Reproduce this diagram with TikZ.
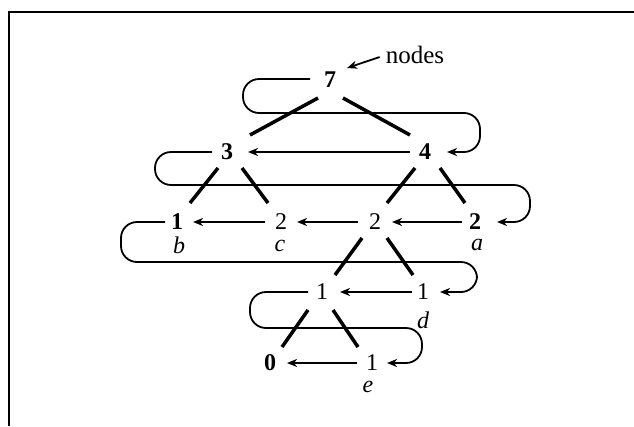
\documentclass[tikz,border=0pt]{standalone}
\usepackage{fontspec}
\setmainfont{Liberation Serif}
\usetikzlibrary{calc,arrows.meta}
\begin{document}
\begin{tikzpicture}[x=1pt,y=-1pt,
  bnum/.style={inner sep=0pt,font=\fontsize{24}{28}\selectfont\bfseries},
  rnum/.style={inner sep=0pt,font=\fontsize{24}{28}\selectfont},
  lab/.style={inner sep=0pt,font=\fontsize{24}{28}\selectfont\itshape},
  txt/.style={inner sep=0pt,font=\fontsize{25}{28}\selectfont},
  tedge/.style={line width=3.5pt},
  arr/.style={line width=1.8pt,-{Stealth[length=10pt,width=8pt,inset=3pt]}},
  loopline/.style={line width=1.8pt,rounded corners=16pt,-{Stealth[length=10pt,width=8pt,inset=3pt]}},
  frame/.style={line width=2pt}]
\useasboundingbox (0,0) rectangle (634,426);
\draw[frame] (9,426) -- (9,12) -- (634,12);
% nodes
\node[bnum] (n7) at (330,80) {7};
\node[txt] (lbl) at (415,55) {nodes};
\node[bnum] (n3) at (227,152) {3};
\node[bnum] (n4) at (425,152) {4};
\node[bnum] (nb) at (177,222) {1};
\node[rnum] (nc) at (281,222) {2};
\node[rnum] (nm) at (375,222) {2};
\node[bnum] (na) at (475,222) {2};
\node[rnum] (nl) at (322,292) {1};
\node[rnum] (nd) at (423,292) {1};
\node[bnum] (n0) at (270,363) {0};
\node[rnum] (ne) at (372,363) {1};
\node[lab] (lb) at (179,245) {b};
\node[lab] (lc) at (280,246) {c};
\node[lab] (la) at (477,245) {a};
\node[lab] (ld) at (423,320) {d};
\node[lab] (le) at (368,387) {e};
% tree edges
\draw[tedge] ($(n7)+(-12,18)$) -- ($(n3)+(23,-17)$);
\draw[tedge] ($(n7)+(13,18)$) -- ($(n4)+(-15,-17)$);
\draw[tedge] ($(n3)+(-9,16)$) -- ($(nb)+(13,-19)$);
\draw[tedge] ($(n3)+(15,16)$) -- ($(nc)+(-13,-19)$);
\draw[tedge] ($(n4)+(-10,16)$) -- ($(nm)+(12,-19)$);
\draw[tedge] ($(n4)+(15,16)$) -- ($(na)+(-10,-19)$);
\draw[tedge] ($(nm)+(-13,16)$) -- ($(nl)+(13,-17)$);
\draw[tedge] ($(nm)+(12,16)$) -- ($(nd)+(-10,-17)$);
\draw[tedge] ($(nl)+(-14,18)$) -- ($(n0)+(12,-16)$);
\draw[tedge] ($(nl)+(11,18)$) -- ($(ne)+(-14,-16)$);
% horizontal arrows
\draw[arr] ($(n4)+(-15,0)$) -- ($(n3)+(21,0)$);
\draw[arr] ($(nc)+(-16,0)$) -- ($(nb)+(16,0)$);
\draw[arr] ($(nm)+(-17,0)$) -- ($(nc)+(16,0)$);
\draw[arr] ($(na)+(-13,0)$) -- ($(nm)+(17,0)$);
\draw[arr] ($(nd)+(-11,0)$) -- ($(nl)+(18,0)$);
\draw[arr] ($(ne)+(-15,0)$) -- ($(n0)+(17,0)$);
% label arrow
\draw[arr] ($(lbl.west)+(-6,2)$) -- ($(n7)+(17,-12)$);
% loops
\draw[loopline] ($(n7)+(-20,-1)$) -| ($(n7)+(-87,33)$) -| ($(n4)+(55,0)$) -- ($(n4)+(22,0)$);
\draw[loopline] ($(n3)+(-15,0)$) -| ($(n3)+(-72,33)$) -| ($(na)+(55,0)$) -- ($(na)+(22,0)$);
\draw[loopline] ($(nb)+(-12,0)$) -| ($(nb)+(-56,40)$) -| ($(nd)+(54,0)$) -- ($(nd)+(17,0)$);
\draw[loopline] ($(nl)+(-14,0)$) -| ($(nl)+(-72,36)$) -| ($(ne)+(50,0)$) -- ($(ne)+(15,0)$);
\end{tikzpicture}
\end{document}
